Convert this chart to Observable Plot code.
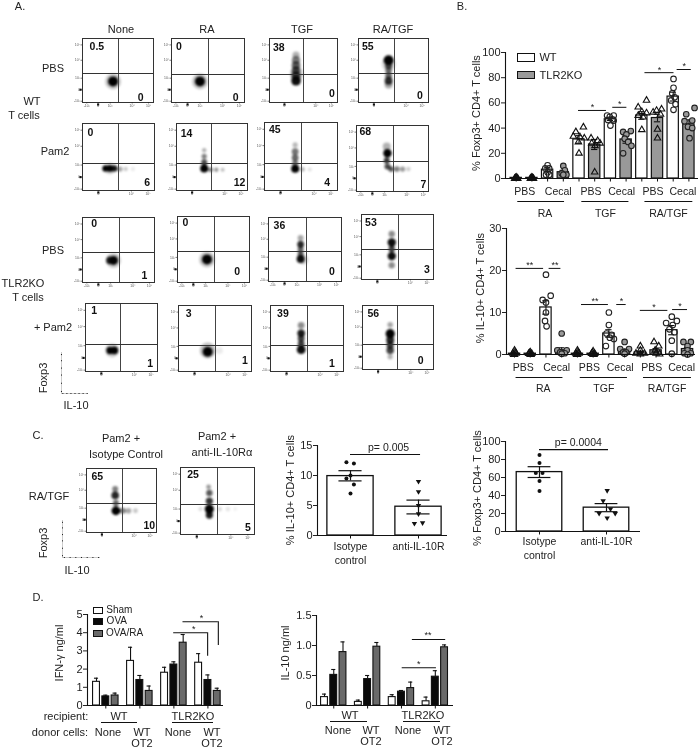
<!DOCTYPE html>
<html><head><meta charset="utf-8">
<script src="https://cdn.jsdelivr.net/npm/d3@7"></script>
<script src="https://cdn.jsdelivr.net/npm/@observablehq/plot@0.6"></script>
<style>
html,body{margin:0;padding:0;background:#fff}
#root{position:relative;width:700px;height:748px;overflow:hidden;font-family:"Liberation Sans",Arial,sans-serif;color:#222;filter:blur(.3px)}
#root svg{position:absolute;overflow:visible;background:transparent}
.lb{position:absolute;white-space:nowrap;transform:translate(-50%,-50%);line-height:1}
.sw{position:absolute;box-sizing:border-box;border:1.3px solid #111}
</style></head><body><div id="root"></div>
<script>
const FONT='"Liberation Sans",Arial,sans-serif', INK="#222";
// ---------- DATA: flow cytometry ----------
const flowRows=["PBS","Pam2","PBS","+ Pam2"];
const flowCols=["None","RA","TGF","RA/TGF"];
// percent in the upper-left and lower-right gates
const upperLeft=[["0.5","0","38","55"],["0","14","45","68"],["0","0","36","53"],["1","3","39","56"],["65","25"]];
const lowerRight=[["0","0","0","0"],["6","12","4","7"],["1","0","0","3"],["1","1","1","0"],["10","5"]];
// density of each population: [IL-10 position, Foxp3 position, spread, density]
const populations=[
 [[.43,.67,5,1],[.43,.67,8,.22]],
 [[.39,.67,5,1],[.39,.67,8,.22]],
 [[.39,.66,4.8,.95],[.39,.58,4.6,.75],[.39,.5,4.4,.65],[.39,.42,4.4,.6],[.39,.34,4.2,.5],[.39,.26,3.6,.3],[.4,.55,7,.15]],
 [[.43,.34,5,1],[.43,.42,3.6,.7],[.43,.5,3.2,.55],[.43,.58,3.4,.6],[.43,.66,4,.8],[.43,.72,4,.35],[.43,.4,7,.15]],
 [[.32,.67,3.2,1],[.38,.67,3.4,1],[.44,.67,3.2,.9],[.52,.68,2.6,.35],[.6,.68,2.2,.2],[.7,.68,2.2,.08],[.38,.67,6,.15]],
 [[.39,.67,4,1],[.39,.58,3,.7],[.39,.49,2.6,.5],[.39,.4,2.2,.3],[.48,.69,2.4,.5],[.56,.69,2.2,.4],[.65,.69,2,.25]],
 [[.42,.68,4,1],[.42,.6,3,.55],[.42,.52,3.4,.6],[.42,.43,3.4,.55],[.42,.33,2.6,.28],[.52,.69,2.4,.28],[.62,.69,2,.12]],
 [[.43,.42,4.2,1],[.42,.53,3,.8],[.43,.62,3,.7],[.48,.66,2.8,.65],[.56,.66,2.8,.5],[.64,.66,2.6,.4],[.72,.66,2.2,.2],[.42,.32,4,.3]],
 [[.43,.66,4.5,1],[.38,.66,3.8,.85],[.43,.66,7.5,.22]],
 [[.41,.65,5,1],[.41,.65,8,.22]],
 [[.44,.42,3.4,.85],[.44,.5,3,.6],[.44,.57,3,.65],[.44,.65,4,.95],[.44,.32,3,.35],[.48,.66,5,.15]],
 [[.42,.43,4.2,.95],[.42,.64,4.2,.95],[.42,.3,3.2,.45],[.42,.78,3.2,.45],[.42,.53,3.2,.75]],
 [[.34,.69,3.6,1],[.4,.69,3.8,1],[.37,.69,7,.2]],
 [[.4,.7,5,1],[.4,.68,8,.25],[.56,.68,3.5,.08]],
 [[.42,.42,3.8,.9],[.42,.5,3.4,.75],[.42,.58,3.4,.75],[.42,.67,4.4,.95],[.42,.3,3.4,.45]],
 [[.39,.44,4.6,1],[.39,.54,4,.85],[.39,.62,3.6,.75],[.39,.7,3.8,.75],[.39,.3,2.8,.35],[.39,.8,2.6,.3]],
 [[.41,.42,3.8,.85],[.41,.32,3,.5],[.42,.54,3,.6],[.42,.66,4.4,1],[.52,.66,3,.5],[.6,.66,2.8,.35],[.7,.66,2.4,.22]],
 [[.39,.38,3.2,.65],[.38,.29,2.4,.4],[.39,.5,3.6,.8],[.39,.62,4.6,1],[.39,.71,3.6,.9],[.53,.62,2.4,.14],[.64,.62,2.4,.1],[.74,.62,2,.06],[.27,.62,2.2,.12]]
];
// gate-label anchor per panel: [upper x,upper y,lower x,lower y]
const labelSpots=[[.1,.12,.86,.92],[.06,.12,.92,.92],[.05,.14,.96,.86],[.05,.12,.92,.9],
 [.07,.13,.94,.88],[.06,.15,.97,.88],[.06,.1,.9,.88],[.04,.1,.97,.9],
 [.12,.09,.9,.9],[.07,.09,.87,.83],[.07,.12,.91,.85],[.05,.12,.95,.85],
 [.08,.1,.94,.88],[.1,.12,.95,.83],[.09,.12,.88,.88],[.07,.12,.86,.86],
 [.07,.12,.98,.9],[.09,.11,.95,.89]];
// layout of each panel on the page: [left,right,top,bottom,vertical gate,horizontal gate,axis kind]
const flowBoxes=[[82,153,38,102,118,73,"a"],[171,244,38,102,208,74,"a"],[269,337,38,102,303,74,"b"],[358,428,38,102,394,73,"b"],
 [82,154,123,190,118,163,"b"],[176,247,123,190,211,163,"b"],[264,337,122,190,301,163,"b"],[356,428,125,191,393,161,"a"],
 [82,154,217,282,119,252,"a"],[177,249,216,282,214,251,"a"],[268,341,217,281,306,251,"a"],[361,433,214,279,398,249,"b"],
 [85,157,303,371,120,344,"b"],[178,251,305,371,215,345,"b"],[270,343,305,371,307,345,"b"],[362,433,305,369,397,344,"b"],
 [86,156,468,532,122,503,"b"],[180,254,467,534,217,504,"b"]];
const flowXTicks={a:[.06,.22,.39,.7,.93],b:[.22,.68,.91]};
const flowXNames={a:["-10³","0","10³","10⁴","10⁵"],b:["0","10⁴","10⁵"]};
const flowYTicks=[.1,.34,.62,.8,.98];
const flowYNames=["10⁵","10⁴","10³","0","-10³"];

// ---------- DATA: panel B ----------
const bGroups=["RA","TGF","RA/TGF"];
const bFoxp3=[.5,.5,7,5,31,27,47,31,50,48,65,43];
const bFoxp3Err=[.3,.3,1.5,1.5,3,4,1,3,3,3,3.5,3.5];
const bIl10=[.2,.2,11.2,1,.2,.2,5,1,.5,1,5.8,1.3];
const bIl10Err=[.1,.1,1.6,.6,.1,.1,.9,.3,.3,.4,1.1,.4];
const bFill=["WT","KO","WT","KO","WT","KO","WT","KO","WT","KO","WT","KO"];
const bShape=["t","t","c","c","t","t","c","c","t","t","c","c"];
// each bar's animals: [value, sideways offset]
const bFoxp3Pts=[
 [[0,-.1],[0,.1],[1,0],[0,0],[.5,.05],[.5,-.05]],[[0,-.1],[0,.1],[1,0],[0,0],[.5,.05],[.5,-.05]],
 [[10.5,0],[8,.1],[8,-.15],[5,0],[3,.1],[3,-.1]],[[10,0],[6.5,.1],[4,-.1],[3,.2],[3,0]],
 [[40.8,.28],[37,-.2],[33.4,-.36],[33,.06],[32,.34],[29,-.04],[20,0]],
 [[32,-.23],[30,.19],[28,-.19],[28,.34],[26,.02],[5,0]],
 [[50,-.21],[50,.21],[49,-.04],[47,.13],[46.5,-.15],[46,.21],[42,0]],
 [[37,-.19],[37.6,.3],[35,.02],[31.6,-.09],[29,.13],[26,.34],[20,-.19]],
 [[62,.3],[56.6,-.23],[53,0],[52,.3],[50,-.23],[48.7,.09],[38.7,0]],
 [[55,.26],[54,-.06],[52.6,-.28],[51,.19],[39,0],[32,0]],
 [[79,.02],[72,.02],[67.6,-.06],[64.5,.09],[62,-.13],[59,.15],[54.5,.02]],
 [[56,.36],[51,-.17],[45.5,-.28],[46,.21],[41,-.06],[40,.21],[32,.04]]];
const bIl10Pts=[
 [[1,0],[.3,-.1],[.3,.1],[0,0],[0,-.05],[.6,.03]],[[.6,0],[.2,-.1],[.2,.1],[0,0],[0,.05],[.4,-.03]],
 [[19,0],[14,.3],[13,-.21],[12.4,0],[10,0],[8,-.06],[6.7,.04]],
 [[5,0],[1,-.28],[1,.32],[.5,-.1],[.3,.2],[.2,0]],
 [[1,0],[.3,-.1],[.3,.1],[0,0],[0,-.05],[.6,.03]],[[.8,0],[.2,-.1],[.2,.1],[0,0],[0,.05],[.4,-.03]],
 [[10,0],[7,0],[5,-.15],[4.7,.17],[4,.06],[3.7,.32],[2,-.19]],
 [[3,0],[1.3,-.28],[1.3,.28],[.5,-.1],[.5,.1],[.2,0]],
 [[2,0],[1,0],[.3,-.28],[.3,.26],[.1,0]],[[3,-.13],[2,.17],[1,-.06],[.3,0],[.1,.23]],
 [[9,0],[7.5,-.36],[8,.32],[7,.06],[6,-.15],[5.3,.17],[3.3,0],[.2,0]],
 [[3,-.26],[3,.21],[2,0],[1,0],[.3,-.21],[.3,.21],[0,0]]];
const bTickNames=["PBS","Cecal","PBS","Cecal","PBS","Cecal"];
const bTickMid=[.55,2.68,4.76,6.72,8.72,10.62];
const bGroupSpan=[[.1,3.08],[4.18,7.18],[8.2,11.25]];
const bGroupMid=[1.83,5.68,9.7];
// significance bars: [from, to, height, stars]
const bFoxp3Sig=[[3.97,5.75,54,"*"],[6.15,7.05,56.5,"*"],[8.2,10.05,84,"*"],[10.25,11.15,86.5,"*"]];
const bIl10Sig=[[.1,1.85,20.5,"**"],[2.2,2.95,20.5,"**"],[4.26,5.97,11.9,"**"],[6.5,7.1,11.9,"*"],[8,9.75,10.5,"*"],[10.05,11,10.7,"*"]];

// ---------- DATA: panel C ----------
const cNames=["Isotype\ncontrol","anti-IL-10R"];
const cIl10=[9.9,4.8], cIl10Low=[9.1,3.6], cIl10High=[10.8,5.9];
const cIl10Iso=[[12.2,-.06],[12,.05],[10,0],[9.5,-.06],[8.5,.05],[7,0]];
const cIl10Anti=[[9,0],[7.3,0],[5,0],[3.6,0],[2,-.06],[2.1,.06]];
const cFox=[66,26.5], cFoxLow=[60,22], cFoxHigh=[72,31];
const cFoxIso=[[85,0],[76,0],[65,-.055],[65,.045],[56,0],[45,0]];
const cFoxAnti=[[45.5,.01],[34,-.05],[25,.06],[20,-.11],[20,.13],[15,.01]];

// ---------- DATA: panel D ----------
const dSeries=["Sham","OVA","OVA/RA"];
const dColors=["#fff","#0a0a0a","#6a6a6a"];
const dIfn=[1.3,.5,.55,2.45,1.4,.8,1.8,2.25,3.45,2.35,1.4,.8];
const dIfnTop=[1.5,.57,.68,3.2,1.65,1.07,2.1,2.4,3.9,2.85,1.68,.95];
const dIl10=[.14,.51,.89,.06,.44,.98,.14,.23,.29,.07,.48,.97];
const dIl10Top=[.19,.6,1.06,.09,.5,1.05,.18,.25,.39,.14,.58,1.01];

// ---------- helpers ----------
const root=document.getElementById("root");
function put(svg,left,top){svg.style.left=left+"px";svg.style.top=top+"px";root.appendChild(svg);}
function lb(x,y,t,o={}){const d=document.createElement("div");d.className="lb";d.textContent=t;
 d.style.left=x+"px";d.style.top=y+"px";d.style.fontSize=(o.size||11)+"px";
 if(o.rot)d.style.transform="translate(-50%,-50%) rotate(-90deg)";root.appendChild(d);}
function sw(x,y,w,h,c){const d=document.createElement("div");d.className="sw";
 d.style.cssText+=`left:${x}px;top:${y}px;width:${w}px;height:${h}px;background:${c}`;root.appendChild(d);}
const baseTicks=(ticks)=>Plot.axisX(ticks,{anchor:"bottom",tickSize:3.5,tickFormat:()=>"",label:null,stroke:"#111",strokeWidth:1});

function flowPanel(box,pop,ul,lr,spot){
 const [l,r,t,b,vg,hg,kind]=box, ml=13,mb=11,w=r-l,h=b-t;
 const xt=flowXTicks[kind], xn=flowXNames[kind];
 const svg=Plot.plot({width:w+ml+2,height:h+mb+2,marginLeft:ml,marginRight:2,marginTop:2,marginBottom:mb,
  style:{fontFamily:FONT},
  x:{domain:[0,1],axis:null},y:{domain:[1,0],axis:null},r:{type:"identity"},
  marks:[
   Plot.dot(pop,{x:d=>d[0],y:d=>d[1],r:d=>d[2],fill:"#000",fillOpacity:d=>d[3],imageFilter:"blur(1.3px)"}),
   Plot.ruleX([(vg-l)/w],{stroke:"#444",strokeWidth:1}),
   Plot.ruleY([(hg-t)/h],{stroke:"#333",strokeWidth:1}),
   Plot.frame({stroke:"#333",strokeWidth:1}),
   Plot.axisX(xt,{anchor:"bottom",tickSize:1.5,tickPadding:1,fontSize:3.4,tickFormat:d=>xn[xt.indexOf(d)],label:null,strokeWidth:.6,fill:"#555"}),
   Plot.axisY(flowYTicks,{anchor:"left",tickSize:1.5,tickPadding:1,fontSize:3.4,tickFormat:d=>flowYNames[flowYTicks.indexOf(d)],label:null,strokeWidth:.6,fill:"#555"}),
   Plot.dot([xt[kind=="a"?1:0]],{x:d=>d,y:()=>1,dy:2,symbol:"square",r:1.2,fill:"#111"}),
   Plot.dot([.8],{x:()=>0,y:d=>d,dx:-2,symbol:"square",r:1.2,fill:"#111"}),
   Plot.text([ul],{x:()=>spot[0],y:()=>spot[1],text:d=>d,textAnchor:"start",fontSize:10.5,fontWeight:"bold",fill:"#111"}),
   Plot.text([lr],{x:()=>spot[2],y:()=>spot[3],text:d=>d,textAnchor:"end",fontSize:10.5,fontWeight:"bold",fill:"#111"})
  ]});
 put(svg,l-ml,t-2);
}
function miniAxes(x0,x1,y0,y1){
 const xs=[.05,.2,.35,.5,.65,.8,.95], ys=[.05,.25,.45,.62,.8,.95];
 const svg=Plot.plot({width:x1-x0+4,height:y1-y0+6,marginLeft:2,marginRight:2,marginTop:1,marginBottom:5,
  x:{domain:[0,1],axis:null},y:{domain:[0,1],axis:null},
  marks:[
   Plot.ruleX([0],{stroke:"#999",strokeWidth:.5}),Plot.ruleY([0],{stroke:"#999",strokeWidth:.5}),
   Plot.dot(xs,{x:d=>d,y:()=>0,symbol:"square",r:.6,fill:"#222"}),
   Plot.dot(ys,{x:()=>0,y:d=>d,symbol:"square",r:.6,fill:"#222"})
  ]});
 put(svg,x0-2,y0-1);
}
function tbl(values,errs,pts,fill,shape){return values.map((v,i)=>({i,v,e:errs[i],fill:fill[i],shape:shape[i],pts:pts[i]}));}

function bChart(o){
 const rows=tbl(o.values,o.errs,o.pts,bFill,bShape);
 const pts=rows.flatMap(r=>r.pts.map(p=>({x:r.i+p[1],y:p[0],shape:r.shape,fill:r.fill})));
 const hw=.36,fs=10.5;
 const svg=Plot.plot({width:o.w,height:o.h,marginLeft:o.ml,marginRight:o.w-o.ml-(o.end-o.axis),marginTop:o.mt,marginBottom:o.mb,
  style:{fontFamily:FONT,color:INK},
  x:{domain:[(o.axis-o.c0)/o.step,(o.end-o.c0)/o.step],axis:null},
  y:{domain:[0,o.ymax],axis:null},
  marks:[
   Plot.rectY(rows,{x1:d=>d.i-hw,x2:d=>d.i+hw,y1:0,y2:d=>d.v,fill:d=>d.fill=="WT"?"#fff":"#999",stroke:"#111",strokeWidth:1.2}),
   Plot.ruleX(rows,{x:"i",y1:d=>d.v-d.e,y2:d=>d.v+d.e,stroke:"#111",strokeWidth:1.1}),
   Plot.ruleY(rows.flatMap(d=>[{x:d.i,y:d.v-d.e},{x:d.i,y:d.v+d.e}]),{y:"y",x1:d=>d.x-.2,x2:d=>d.x+.2,stroke:"#111",strokeWidth:1.1}),
   Plot.dot(pts.filter(d=>d.shape=="c"),{x:"x",y:"y",r:2.8,fill:d=>d.fill=="WT"?"none":"#999",stroke:"#222",strokeWidth:1.1}),
   Plot.dot(pts.filter(d=>d.shape=="t"),{x:"x",y:"y",r:2.4,symbol:"triangle",fill:"none",stroke:"#111",strokeWidth:1.1}),
   Plot.ruleX([(o.axis-o.c0)/o.step],{y1:0,y2:o.ymax,stroke:"#111",strokeWidth:1.1}),
   Plot.ruleY([0],{stroke:"#111",strokeWidth:1.2}),
   Plot.axisY(o.yticks,{anchor:"left",tickSize:4,tickPadding:1,fontSize:11,label:null,tickFormat:d=>d,fill:INK}),
   baseTicks(rows.map(d=>d.i)),
   Plot.text(bTickNames,{x:(d,i)=>bTickMid[i],y:()=>0,dy:13,text:d=>d,fontSize:fs,fill:INK}),
   Plot.ruleY(bGroupSpan,{y:()=>0,x1:d=>d[0],x2:d=>d[1],dy:23,stroke:"#111",strokeWidth:1}),
   Plot.text(bGroups,{x:(d,i)=>bGroupMid[i],y:()=>0,dy:o.groupDy,text:d=>d,fontSize:fs,fill:INK}),
   Plot.ruleY(o.sig,{y:d=>d[2],x1:d=>d[0],x2:d=>d[1],stroke:"#111",strokeWidth:1}),
   Plot.text(o.sig,{x:d=>(d[0]+d[1])/2,y:d=>d[2],dy:-3,text:d=>d[3],fontSize:9,fill:INK})
  ]});
 put(svg,o.left,o.top);
}
function cChart(o){
 const rows=o.values.map((v,i)=>({i,v,lo:o.low[i],hi:o.high[i],name:cNames[i]}));
 const hw=.34;
 const svg=Plot.plot({width:o.w,height:o.h,marginLeft:o.ml,marginRight:o.w-o.ml-(o.end-o.axis),marginTop:o.mt,marginBottom:o.mb,
  style:{fontFamily:FONT,color:INK},
  x:{domain:[(o.axis-o.c0)/o.step,(o.end-o.c0)/o.step],axis:null},y:{domain:[0,o.ymax],axis:null},
  marks:[
   Plot.rectY(rows,{x1:d=>d.i-hw,x2:d=>d.i+hw,y1:0,y2:d=>d.v,fill:"#fff",stroke:"#111",strokeWidth:1.3}),
   Plot.ruleX(rows,{x:"i",y1:"lo",y2:"hi",stroke:"#111",strokeWidth:1.2}),
   Plot.ruleY(rows.flatMap(d=>[{x:d.i,y:d.lo},{x:d.i,y:d.hi}]),{y:"y",x1:d=>d.x-.17,x2:d=>d.x+.17,stroke:"#111",strokeWidth:1.2}),
   Plot.dot(o.iso,{x:d=>d[1],y:d=>d[0],r:2,fill:"#111"}),
   Plot.dot(o.anti,{x:d=>1+d[1],y:d=>d[0],r:2,symbol:"triangle",rotate:180,fill:"#111"}),
   Plot.ruleX([(o.axis-o.c0)/o.step],{y1:0,y2:o.ymax,stroke:"#111",strokeWidth:1.1}),
   Plot.ruleY([0],{stroke:"#111",strokeWidth:1.2}),
   Plot.axisY(o.yticks,{anchor:"left",tickSize:4,tickPadding:1,fontSize:11,label:null,tickFormat:d=>d,fill:INK}),
   baseTicks(rows.map(d=>d.i)),
   Plot.text(rows,{x:"i",y:()=>0,dy:o.labelDy,text:"name",fontSize:10.5,lineHeight:1.35,lineAnchor:"top",fill:INK}),
   Plot.ruleY([o.pY],{x1:o.pX[0],x2:o.pX[1],stroke:"#111",strokeWidth:1.1}),
   Plot.text([o.pText],{x:()=>o.pMid,y:()=>o.pY,dy:-7,text:d=>d,fontSize:10.5,fill:INK})
  ]});
 put(svg,o.left,o.top);
}
function dChart(o){
 const rows=o.values.map((v,i)=>({g:Math.floor(i/3),j:i%3,v,top:o.tops[i]})).map(d=>({...d,x:d.g*o.gap+d.j}));
 const hw=.37;
 const svg=Plot.plot({width:o.w,height:o.h,marginLeft:o.ml,marginRight:o.w-o.ml-(o.end-o.axis),marginTop:o.mt,marginBottom:o.mb,
  style:{fontFamily:FONT,color:INK},
  x:{domain:[(o.axis-o.c0)/o.step,(o.end-o.c0)/o.step],axis:null},y:{domain:[0,o.ymax],axis:null},
  marks:[
   Plot.ruleX(rows,{x:"x",y1:"v",y2:"top",stroke:"#111",strokeWidth:1.1}),
   Plot.ruleY(rows,{y:"top",x1:d=>d.x-.22,x2:d=>d.x+.22,stroke:"#111",strokeWidth:1.1}),
   Plot.rectY(rows,{x1:d=>d.x-hw,x2:d=>d.x+hw,y1:0,y2:"v",fill:d=>dColors[d.j],stroke:"#111",strokeWidth:1.1}),
   Plot.ruleX([(o.axis-o.c0)/o.step],{y1:0,y2:o.ymax,stroke:"#111",strokeWidth:1.1}),
   Plot.ruleY([0],{stroke:"#111",strokeWidth:1.2}),
   Plot.axisY(o.yticks,{anchor:"left",tickSize:4,tickPadding:1,fontSize:11,label:null,tickFormat:o.fmt,fill:INK}),
   baseTicks([1,1+o.gap,1+2*o.gap,1+3*o.gap]),
   Plot.ruleY(o.sig,{y:d=>d.y,x1:d=>d.x1,x2:d=>d.x2,stroke:"#111",strokeWidth:1.1}),
   Plot.ruleX(o.sig.filter(d=>d.down!=null),{x:"x2",y1:"y",y2:"down",stroke:"#111",strokeWidth:1.1}),
   Plot.text(o.sig,{x:"mid",y:"y",dy:-4,text:"s",fontSize:9,fill:INK})
  ]});
 put(svg,o.left,o.top);
}

// ---------- panel A / C flow plots ----------
flowBoxes.forEach((b,i)=>{
 const row=Math.floor(i/4), col=row<4?i%4:i-16;
 flowPanel(b,populations[i],upperLeft[row][col],lowerRight[row][col],labelSpots[i]);
});
miniAxes(61,88,352,393);
miniAxes(62,100,520,557);

// ---------- panel B ----------
bChart({left:470,top:30,w:230,h:195,ml:35,mt:22,mb:47,axis:505,end:698,c0:515.7,step:15.7,ymax:100,yticks:[0,20,40,60,80,100],
 values:bFoxp3,errs:bFoxp3Err,pts:bFoxp3Pts,sig:bFoxp3Sig,groupDy:35});
bChart({left:470,top:210,w:230,h:190,ml:36,mt:18,mb:46,axis:506,end:695,c0:514,step:15.73,ymax:30,yticks:[0,10,20,30],
 values:bIl10,errs:bIl10Err,pts:bIl10Pts,sig:bIl10Sig,groupDy:34});

// ---------- panel C bars ----------
cChart({left:270,top:430,w:185,h:140,ml:47,mt:15,mb:35,axis:317,end:447,c0:350,step:68,ymax:15,yticks:[0,5,10,15],
 values:cIl10,low:cIl10Low,high:cIl10High,iso:cIl10Iso,anti:cIl10Anti,pY:13.5,pX:[0,1.03],pMid:.56,pText:"p= 0.005",labelDy:4});
cChart({left:470,top:430,w:180,h:140,ml:35,mt:11,mb:39,axis:505,end:640,c0:539,step:67,ymax:100,yticks:[0,20,40,60,80,100],
 values:cFox,low:cFoxLow,high:cFoxHigh,iso:cFoxIso,anti:cFoxAnti,pY:91,pX:[0,1.03],pMid:.58,pText:"p= 0.0004",labelDy:3});

// ---------- panel D bars ----------
dChart({left:40,top:600,w:190,h:120,ml:47,mt:14,mb:15,axis:87,end:223,c0:96,step:9.3,gap:3.66,ymax:5,yticks:[0,1,2,3,4,5],fmt:d=>d,values:dIfn,tops:dIfnTop,
 sig:[{x1:8.3,x2:11.95,y:4,down:2.7,mid:10.45,s:"*"},{x1:9.3,x2:13.1,y:4.6,down:3.3,mid:11.3,s:"*"}]});
dChart({left:270,top:600,w:190,h:120,ml:46,mt:15,mb:15,axis:316,end:453,c0:324,step:9.25,gap:3.66,ymax:1.5,yticks:[0,.5,1,1.5],fmt:d=>d===0?"0":d.toFixed(1),values:dIl10,tops:dIl10Top,
 sig:[{x1:9.5,x2:13.1,y:1.1,mid:11.2,s:"**"},{x1:8.4,x2:12.1,y:.63,mid:10.2,s:"*"}]});
// D group underlines
const dSpans=[[101,137,722],[172,213,722],[330,367,721],[403,440,721]];
const spanPlot=Plot.plot({width:700,height:748,margin:0,x:{domain:[0,700],axis:null},y:{domain:[748,0],axis:null},
 marks:[Plot.ruleY(dSpans,{y:d=>d[2],x1:d=>d[0],x2:d=>d[1],stroke:"#111",strokeWidth:1})]});
put(spanPlot,0,0);

// ---------- page text ----------
lb(20,6,"A.");lb(462,6,"B.");lb(38,435,"C.");lb(38,597,"D.");
[121,207,302,393].forEach((x,i)=>lb(x,29,flowCols[i]));
lb(53,68,flowRows[0]);lb(32,101,"WT");lb(24,115,"T cells");lb(55,151,flowRows[1]);
lb(53,250,flowRows[2]);lb(23,283,"TLR2KO");lb(28,297,"T cells");lb(53,327,flowRows[3]);
lb(43,378,"Foxp3",{rot:1});lb(76,405,"IL-10");
lb(121,438,"Pam2 +");lb(126,454,"Isotype Control");lb(217,436,"Pam2 +");lb(222,452,"anti-IL-10Rα");
lb(49,496,"RA/TGF");lb(43,543,"Foxp3",{rot:1});lb(77,570,"IL-10");
lb(476,113,"% Foxp3+ CD4+ T cells",{rot:1});
lb(480,288,"% IL-10+ CD4+ T cells",{rot:1});
lb(290,490,"% IL-10+ CD4+ T cells",{rot:1});
lb(477,488,"% Foxp3+ CD4+ T cells",{rot:1});
lb(59,653,"IFN-γ ng/ml",{rot:1});lb(285,653,"IL-10 ng/ml",{rot:1});
sw(517,53,18,9,"#fff");lb(548,57,"WT");sw(517,71,18,8,"#999");lb(561,75,"TLR2KO");
dSeries.forEach((s,i)=>{const y=[610,621,633][i];sw(93,y-3,10,6.5,dColors[i]);lb(109+s.length*2.6,y,s,{size:10});});
lb(66,716,"recipient:");lb(60,732,"donor cells:");
lb(119,716,"WT");lb(108,732,"None");lb(142,732,"WT");lb(142,743,"OT2");
lb(193,716,"TLR2KO");lb(178,732,"None");lb(212,732,"WT");lb(212,743,"OT2");
lb(350,715,"WT");lb(338,730,"None");lb(371,730,"WT");lb(371,741,"OT2");
lb(423,715,"TLR2KO");lb(408,730,"None");lb(442,730,"WT");lb(442,741,"OT2");
</script></body></html>
